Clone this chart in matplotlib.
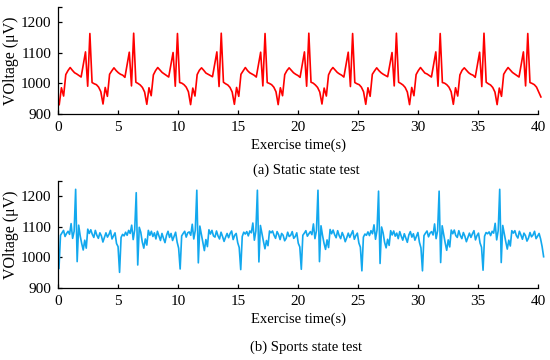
import numpy as np
import matplotlib
matplotlib.use("Agg")
import matplotlib.pyplot as plt

# (a) static state test, sampled every ~0.182 s starting at 0.1 s
static_t0, static_dt = 0.1, 0.1824
static_v = [
    931, 986, 959, 1029, 1042, 1052, 1043, 1035, 1031, 1026, 1021, 1062, 1103, 991, 1163, 1003, 999, 996, 988, 973,
    933, 987, 958, 1030, 1041, 1051, 1042, 1035, 1030, 1027, 1020, 1061, 1102, 992, 1164, 1004, 1000, 995, 987, 972,
    932, 986, 960, 1028, 1042, 1052, 1044, 1036, 1031, 1026, 1021, 1062, 1101, 991, 1163, 1003, 1001, 996, 988, 973,
    931, 985, 959, 1029, 1043, 1051, 1043, 1034, 1030, 1026, 1022, 1063, 1103, 990, 1164, 1004, 999, 995, 987, 972,
    932, 987, 958, 1030, 1041, 1052, 1042, 1035, 1031, 1027, 1021, 1061, 1102, 992, 1163, 1003, 1000, 996, 988, 973,
    931, 986, 960, 1029, 1042, 1051, 1043, 1035, 1030, 1026, 1020, 1062, 1103, 991, 1164, 1004, 1001, 995, 987, 972,
    933, 985, 959, 1028, 1043, 1052, 1044, 1036, 1031, 1027, 1021, 1062, 1102, 990, 1163, 1003, 999, 996, 988, 973,
    932, 986, 958, 1030, 1041, 1051, 1042, 1035, 1030, 1026, 1022, 1061, 1101, 992, 1164, 1004, 1000, 995, 987, 972,
    931, 987, 960, 1029, 1042, 1052, 1043, 1034, 1031, 1026, 1021, 1063, 1103, 991, 1163, 1003, 1001, 996, 988, 973,
    932, 986, 959, 1028, 1043, 1051, 1043, 1035, 1030, 1027, 1020, 1062, 1102, 990, 1164, 1004, 999, 995, 987, 972,
    931, 985, 958, 1030, 1042, 1052, 1044, 1036, 1031, 1026, 1021, 1061, 1103, 992, 1163, 1003, 1000, 996, 988, 972,
    956,
]

# (b) sports state test, sampled every ~0.126 s starting at 0.08 s
sports_t0, sports_dt = 0.08, 0.12617
sports_v = [
    964, 1072, 1080, 1088, 1068, 1078, 1085, 1075, 1110, 1062, 1085, 1222, 986, 1105, 1070, 1045, 1024, 1056, 1030, 1092,
    1078, 1090, 1075, 1065, 1088, 1072, 1062, 1080, 1070, 1050, 1065, 1080, 1066, 1075, 1088, 1060, 1070, 1080, 1045, 1035,
    951, 1065, 1075, 1070, 1082, 1072, 1088, 1078, 1105, 1058, 1090, 1211, 975, 1098, 1082, 1050, 1030, 1060, 1040, 1088,
    1072, 1085, 1068, 1080, 1060, 1085, 1070, 1055, 1078, 1062, 1048, 1072, 1085, 1065, 1078, 1055, 1068, 1082, 1050, 1030,
    962, 1070, 1078, 1085, 1066, 1080, 1083, 1072, 1108, 1060, 1088, 1219, 982, 1102, 1075, 1048, 1022, 1058, 1035, 1090,
    1076, 1088, 1070, 1066, 1086, 1070, 1060, 1082, 1068, 1052, 1066, 1078, 1064, 1078, 1086, 1058, 1072, 1078, 1048, 1032,
    960, 1068, 1082, 1076, 1084, 1070, 1086, 1080, 1112, 1056, 1086, 1219, 985, 1104, 1078, 1052, 1028, 1055, 1038, 1086,
    1080, 1086, 1072, 1062, 1084, 1074, 1058, 1078, 1072, 1054, 1062, 1082, 1068, 1072, 1084, 1062, 1068, 1080, 1046, 1034,
    961, 1072, 1079, 1087, 1069, 1077, 1084, 1074, 1109, 1061, 1087, 1219, 986, 1103, 1072, 1046, 1026, 1057, 1032, 1091,
    1077, 1089, 1074, 1064, 1087, 1071, 1061, 1081, 1069, 1051, 1064, 1079, 1065, 1076, 1087, 1059, 1071, 1079, 1047, 1033,
    956, 1066, 1076, 1072, 1083, 1071, 1087, 1077, 1106, 1059, 1089, 1216, 980, 1099, 1080, 1049, 1031, 1059, 1039, 1087,
    1073, 1086, 1069, 1079, 1061, 1084, 1069, 1056, 1077, 1063, 1049, 1073, 1084, 1066, 1077, 1056, 1069, 1081, 1049, 1031,
    956, 1071, 1079, 1086, 1067, 1079, 1084, 1073, 1109, 1061, 1087, 1216, 983, 1103, 1074, 1047, 1023, 1057, 1034, 1089,
    1077, 1089, 1071, 1065, 1087, 1071, 1061, 1081, 1069, 1051, 1065, 1079, 1065, 1077, 1087, 1057, 1071, 1079, 1047, 1033,
    958, 1069, 1081, 1077, 1083, 1071, 1085, 1079, 1111, 1057, 1087, 1222, 983, 1104, 1077, 1051, 1027, 1056, 1037, 1087,
    1079, 1087, 1071, 1063, 1085, 1073, 1059, 1079, 1071, 1053, 1063, 1081, 1067, 1073, 1085, 1061, 1069, 1078, 1060, 1035,
    1002,
]

xticks = [0, 5, 10, 15, 20, 25, 30, 35, 40]
yticks = [900, 1000, 1100, 1200, 1250]
ytick_labels = ["900", "1000", "1100", "1200", ""]
captions = ["(a) Static state test", "(b) Sports state test"]

plt.rcParams.update({
    "font.family": "Liberation Serif",
    "font.size": 10.5,
    "axes.linewidth": 0.9,
})

fig = plt.figure(figsize=(5.5, 3.6), dpi=100)
ax_a = fig.add_axes([0.1055, 0.683, 0.873, 0.298])
ax_b = fig.add_axes([0.1055, 0.200, 0.873, 0.298])

series = [
    (ax_a, static_t0 + static_dt * np.arange(len(static_v)), static_v, "#FF0000"),
    (ax_b, sports_t0 + sports_dt * np.arange(len(sports_v)), sports_v, "#12A8EE"),
]

for ax, t, v, color in series:
    ax.plot(t, v, color=color, lw=1.2, clip_on=False)
    ax.set_xlim(0, 40)
    ax.set_ylim(900, 1250)
    ax.set_xticks(xticks)
    ax.set_yticks(yticks)
    ax.set_yticklabels(ytick_labels)
    ax.spines["top"].set_visible(False)
    ax.spines["right"].set_visible(False)
    ax.tick_params(direction="in", length=3, width=0.9, labelsize=11)
    ax.tick_params(axis="x", pad=5)
    ax.tick_params(axis="y", pad=5)
    ax.set_xlabel("Exercise time(s)", labelpad=3, fontsize=10.5)
    ax.set_ylabel("VOltage (μV)", labelpad=1, fontsize=11.5)

fig.text(0.557, 1 - 170 / 360, captions[0], ha="center", va="center")
fig.text(0.557, 1 - 347 / 360, captions[1], ha="center", va="center")

fig.savefig("out.png", dpi=100)
